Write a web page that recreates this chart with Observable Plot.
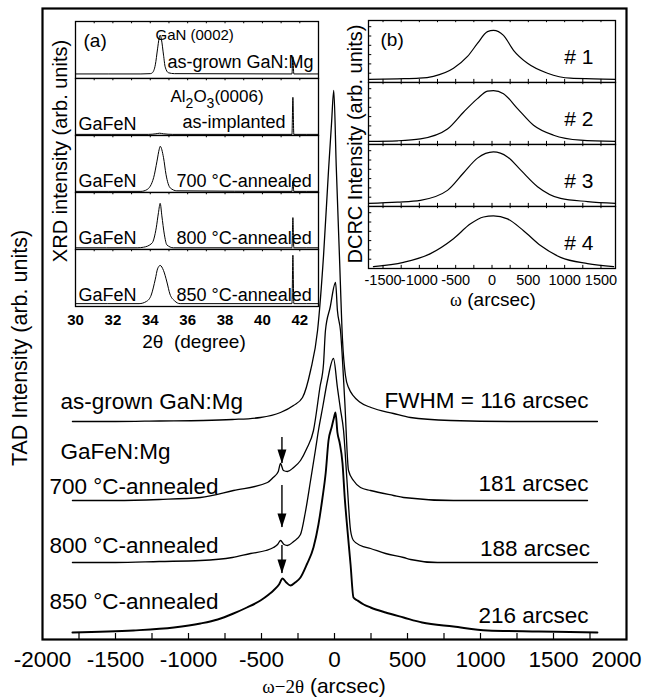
<!DOCTYPE html>
<html>
<head>
<meta charset="utf-8">
<script src="https://cdn.jsdelivr.net/npm/d3@7"></script>
<script src="https://cdn.jsdelivr.net/npm/@observablehq/plot@0.6"></script>
<style>
  html, body { margin: 0; padding: 0; background: #fff; }
  #chart { position: relative; width: 650px; height: 700px; overflow: hidden; background: #fff; }
  #chart svg { position: absolute; overflow: visible; }
</style>
</head>
<body>
<div id="chart"></div>
<script>
const SANS = '"Liberation Sans", Arial, Helvetica, sans-serif';
const SERIF = '"Liberation Serif", "Times New Roman", serif';

// ================= Main panel: TAD ω–2θ scans =================
const tadNames = ["as-grown GaN:Mg", "700 °C-annealed", "800 °C-annealed", "850 °C-annealed"];
const tadOffsets = [218, 139, 77, 7];
const tadFwhmLabels = ["FWHM = 116 arcsec", "181 arcsec", "188 arcsec", "216 arcsec"];
const tadGroupLabel = "GaFeN:Mg";
const tadXTicks = [-2000, -1500, -1000, -500, 0, 500, 1000, 1500];
const tadXLastTick = [2000];
const tadMinorTicks = [-1750, -1500, -1250, -1000, -750, -500, -250, 0, 250, 500, 750, 1000, 1250, 1500, 1750];

const tadX_asGrown = [-1795, -1500, -1200, -900, -700, -507, -370, -281, -219, -164, -116, -75, -41, -20, -5, 12, 34, 55, 75, 96, 178, 250, 404, 520, 795, 1200, 1801];
const tadI_asGrown = [0, 0, 0.5, 1, 2, 4, 9, 16, 24, 51, 91, 166, 251, 299, 331, 255, 165, 81, 46, 34, 19, 14, 8, 4, 1, 0, 0];

const tadX_700 = [-1795, -1500, -1200, -918, -692, -459, -420, -385, -370, -350, -322, -280, -233, -190, -144, -100, -75, -62, -30, 7, 20, 41, 70, 96, 130, 178, 247, 404, 473, 815, 1200, 1733];
const tadI_700 = [0, 0, 1, 3, 10, 18, 23, 29, 37, 30, 29, 33, 40, 52, 70, 113, 137, 170, 193, 218, 190, 170, 100, 30, 20, 13, 10, 5, 3, 0, 0, 0];

const tadX_800 = [-1795, -1500, -1200, -918, -700, -575, -470, -418, -390, -370, -345, -322, -280, -233, -200, -164, -130, -110, -80, -48, -7, 20, 40, 62, 85, 110, 130, 178, 247, 350, 473, 521, 705, 1200, 1801];
const tadI_800 = [0, 0, 1, 2, 5, 9, 12, 15, 18, 22, 18, 17, 21, 28, 50, 82, 113, 132, 156, 182, 204, 175, 154, 132, 83, 32, 22, 17, 14, 9, 5, 3, 0, 0, 0];

const tadX_850 = [-1795, -1377, -1100, -918, -800, -692, -600, -507, -450, -418, -380, -356, -330, -301, -270, -233, -190, -144, -110, -82, -60, -41, -20, -5, 7, 20, 35, 55, 70, 89, 110, 130, 158, 200, 247, 350, 473, 600, 815, 1048, 1400, 1801];
const tadI_850 = [0, 2, 5, 9, 13, 19, 25, 32, 38, 42, 48, 54, 50, 47, 50, 55, 68, 85, 108, 135, 160, 192, 205, 214, 220, 200, 190, 169, 135, 102, 68, 35, 32, 28, 25, 20, 15, 10, 6, 2, 1, 0];

// arrows marking the secondary feature
const arrowX = [-360, -360, -360];
const arrowFrom = [202, 154, 94];
const arrowTo = [176, 112, 66];

// ================= Inset (a): XRD 2θ scans =================
const xrdSample = "GaFeN";
const xrdConditions = ["as-grown GaN:Mg", "as-implanted", "700 °C-annealed", "800 °C-annealed", "850 °C-annealed"];
const xrdTicks = [30, 32, 34, 36, 38, 40, 42];
const xrdMinorTicks = [31, 32, 33, 34, 35, 36, 37, 38, 39, 40, 41, 42];

const xrdX_asGrown = [30, 33.5, 34.0, 34.11, 34.27, 34.39, 34.47, 34.53, 34.6, 34.71, 34.8, 34.98, 35.3, 41.58, 41.63, 41.68, 43];
const xrdY_asGrown = [0.08, 0.08, 0.085, 0.10, 0.24, 0.52, 0.70, 0.76, 0.68, 0.41, 0.20, 0.10, 0.085, 0.08, 0.38, 0.08, 0.08];
const xrdX_implanted = [30, 33.9, 34.3, 34.5, 34.7, 35.2, 41.58, 41.63, 41.68, 43];
const xrdY_implanted = [0.02, 0.02, 0.03, 0.04, 0.03, 0.02, 0.02, 0.67, 0.02, 0.02];
const xrdX_700 = [30, 33.5, 33.82, 34.18, 34.36, 34.48, 34.53, 34.71, 34.84, 35.07, 35.42, 41.58, 41.63, 41.68, 43];
const xrdY_700 = [0.02, 0.02, 0.05, 0.26, 0.55, 0.76, 0.81, 0.61, 0.32, 0.08, 0.03, 0.02, 0.2, 0.02, 0.02];
const xrdX_800 = [30, 33.3, 33.64, 34.09, 34.32, 34.44, 34.53, 34.62, 34.75, 34.89, 35.24, 41.58, 41.63, 41.68, 43];
const xrdY_800 = [0.03, 0.03, 0.04, 0.11, 0.38, 0.65, 0.81, 0.59, 0.27, 0.08, 0.03, 0.03, 0.56, 0.03, 0.03];
const xrdX_850 = [30, 33.4, 33.8, 34.05, 34.27, 34.39, 34.53, 34.71, 34.89, 35.05, 35.3, 35.6, 41.58, 41.63, 41.68, 43];
const xrdY_850 = [0.05, 0.05, 0.09, 0.2, 0.48, 0.66, 0.72, 0.63, 0.43, 0.22, 0.1, 0.05, 0.05, 0.9, 0.05, 0.05];

// ================= Inset (b): DCRC rocking curves =================
const dcrcLabels = ["# 1", "# 2", "# 3", "# 4"];
const dcrcTicks = [-1500, -1000, -500, 0, 500, 1000, 1500];
const dcrcMinorTicks = [-1500, -1250, -1000, -750, -500, -250, 0, 250, 500, 750, 1000, 1250, 1500];
const dcrcYTicks = [0.15, 0.3, 0.45, 0.6, 0.75, 0.9];
const dcrcX_1 = [-1700, -1300, -1000, -806, -530, -337, -200, -62, 20, 158, 296, 489, 764, 1081, 1400, 1700];
const dcrcY_1 = [0.05, 0.06, 0.07, 0.10, 0.23, 0.42, 0.63, 0.82, 0.84, 0.76, 0.52, 0.31, 0.15, 0.07, 0.06, 0.05];
const dcrcX_2 = [-1700, -1300, -985, -613, -393, -200, -62, 20, 158, 351, 572, 847, 1219, 1700];
const dcrcY_2 = [0.05, 0.06, 0.09, 0.25, 0.52, 0.74, 0.86, 0.87, 0.82, 0.58, 0.31, 0.15, 0.07, 0.05];
const dcrcX_3 = [-1700, -1300, -985, -613, -393, -200, 20, 213, 393, 627, 944, 1315, 1700];
const dcrcY_3 = [0.05, 0.07, 0.10, 0.26, 0.54, 0.78, 0.88, 0.80, 0.59, 0.32, 0.13, 0.08, 0.05];
const dcrcX_4 = [-1632, -1219, -847, -530, -296, -117, 20, 213, 434, 668, 944, 1315, 1674];
const dcrcY_4 = [0.03, 0.10, 0.24, 0.48, 0.72, 0.83, 0.85, 0.80, 0.61, 0.37, 0.18, 0.08, 0.03];

// ---------- build tables ----------
const tadX = [tadX_asGrown, tadX_700, tadX_800, tadX_850];
const tadI = [tadI_asGrown, tadI_700, tadI_800, tadI_850];
const tadRows = [];
tadX.forEach((xs, k) => xs.forEach((x, i) => tadRows.push({series: tadNames[k], x, y: tadI[k][i] + tadOffsets[k]})));
const arrowRows = arrowX.map((x, i) => ({x, y1: arrowFrom[i], y2: arrowTo[i]}));

const xrdX = [xrdX_asGrown, xrdX_implanted, xrdX_700, xrdX_800, xrdX_850];
const xrdY = [xrdY_asGrown, xrdY_implanted, xrdY_700, xrdY_800, xrdY_850];
const xrdRows = [];
xrdX.forEach((xs, p) => xs.forEach((x, i) => xrdRows.push({panel: p, x, y: xrdY[p][i]})));

const dcrcX = [dcrcX_1, dcrcX_2, dcrcX_3, dcrcX_4];
const dcrcY = [dcrcY_1, dcrcY_2, dcrcY_3, dcrcY_4];
const dcrcRows = [];
dcrcX.forEach((xs, p) => xs.forEach((x, i) => dcrcRows.push({panel: p, x, y: dcrcY[p][i]})));

const chart = document.getElementById("chart");

// ---------- main plot ----------
const arrowHead = {draw(ctx) { ctx.moveTo(0, 7); ctx.lineTo(-4.5, -7); ctx.lineTo(4.5, -7); ctx.closePath(); }};
const mainLabel = (t, x, y, anchor) => Plot.text([t], {x: () => x, y: () => y, text: d => d, textAnchor: anchor, lineAnchor: "bottom", fontSize: 22.5});

const main = Plot.plot({
  width: 650, height: 700,
  marginLeft: 42, marginRight: 24, marginTop: 8, marginBottom: 61,
  style: {fontFamily: SANS, background: "transparent", color: "black"},
  x: {domain: [-2000, 2000]},
  y: {domain: [0, 631], axis: null},
  marks: [
    Plot.ruleX(tadMinorTicks, {x: d => d, y1: 0, y2: 6, stroke: "black", strokeWidth: 1.2}),
    Plot.axisX({ticks: tadXTicks, tickSize: 0, tickPadding: 12, label: null, fontSize: 22.5, tickFormat: d => String(d)}),
    Plot.axisX({ticks: tadXLastTick, tickSize: 0, tickPadding: 12, label: null, fontSize: 22.5, dx: -10, tickFormat: d => String(d)}),
    Plot.line(tadRows.filter(d => d.series !== tadNames[3]), {x: "x", y: "y", z: "series", stroke: "black", strokeWidth: 1.3, curve: "monotone-x"}),
    Plot.line(tadRows.filter(d => d.series === tadNames[3]), {x: "x", y: "y", stroke: "black", strokeWidth: 1.9, curve: "monotone-x"}),
    Plot.ruleX(arrowRows, {x: "x", y1: "y1", y2: "y2", stroke: "black", strokeWidth: 1.4}),
    Plot.dot(arrowRows, {x: "x", y: "y2", symbol: arrowHead, fill: "black", stroke: "none", dy: -7}),
    mainLabel(tadNames[0], -1877, 231, "start"),
    mainLabel(tadGroupLabel, -1877, 181, "start"),
    mainLabel(tadNames[1], -1952, 146, "start"),
    mainLabel(tadNames[2], -1952, 87, "start"),
    mainLabel(tadNames[3], -1952, 31, "start"),
    mainLabel(tadFwhmLabels[0], 1740, 232, "end"),
    mainLabel(tadFwhmLabels[1], 1740, 149, "end"),
    mainLabel(tadFwhmLabels[2], 1750, 84, "end"),
    mainLabel(tadFwhmLabels[3], 1740, 17, "end"),
    Plot.frame({stroke: "black", strokeWidth: 2.2})
  ]
});
main.style.left = "0px"; main.style.top = "0px";
chart.appendChild(main);
{
  const s = d3.select(main);
  s.append("text").attr("transform", "translate(27,348) rotate(-90)").attr("text-anchor", "middle")
    .attr("font-family", SANS).attr("font-size", 21.5).attr("fill", "black").text("TAD Intensity (arb. units)");
  const t = s.append("text").attr("x", 324).attr("y", 693).attr("text-anchor", "middle").attr("fill", "black");
  t.append("tspan").attr("font-family", SERIF).attr("font-size", 19).text("ω−2θ");
  t.append("tspan").attr("font-family", SANS).attr("font-size", 21).text(" (arcsec)");
}

// ---------- inset (a) ----------
const condDx = [92, 107, 101, 101, 101];
const condDy = [-11, -8, -6, -6, -6];
const insetA = Plot.plot({
  width: 300, height: 350,
  marginLeft: 35, marginRight: 22, marginTop: 9, marginBottom: 52,
  style: {fontFamily: SANS, background: "transparent", color: "black"},
  x: {domain: [30, 43]},
  y: {domain: [0, 1], axis: null},
  fy: {domain: [0, 1, 2, 3, 4], axis: null, padding: 0},
  marks: [
    Plot.frame({fill: "white", stroke: "black", strokeWidth: 1.3}),
    Plot.ruleX(xrdMinorTicks, {x: d => d, y1: 1, y2: 0.96, stroke: "black", strokeWidth: 1}),
    Plot.axisX({anchor: "bottom", ticks: xrdTicks, tickSize: 0, tickPadding: 8, fontSize: 15, label: null, tickFormat: d => String(d)}),
    Plot.line(xrdRows, {x: "x", y: "y", fy: "panel", z: "panel", stroke: "black", strokeWidth: 1, curve: "monotone-x"}),
    Plot.text([{panel: 0, t: "(a)"}], {fy: "panel", text: "t", frameAnchor: "top-left", dx: 8, dy: 25, lineAnchor: "bottom", textAnchor: "start", fontSize: 19}),
    Plot.text([{panel: 0, t: "GaN (0002)"}], {fy: "panel", text: "t", frameAnchor: "top-left", dx: 80, dy: 18, lineAnchor: "bottom", textAnchor: "start", fontSize: 15}),
    Plot.text([1, 2, 3, 4].map(p => ({panel: p, t: xrdSample})), {fy: "panel", text: "t", frameAnchor: "bottom-left", dx: 3, dy: -6, lineAnchor: "bottom", textAnchor: "start", fontSize: 18}),
    ...xrdConditions.map((c, p) => Plot.text([{panel: p, t: c}], {fy: "panel", text: "t", frameAnchor: "bottom-left", dx: condDx[p], dy: condDy[p], lineAnchor: "bottom", textAnchor: "start", fontSize: 18}))
  ]
});
insetA.style.left = "40px"; insetA.style.top = "10px";
chart.appendChild(insetA);
{
  const s = d3.select(insetA);
  const tickStrings = xrdTicks.map(String);
  s.selectAll("text").filter(function () { return tickStrings.includes(this.textContent); })
    .style("font-weight", "bold");
  s.append("text").attr("transform", "translate(27,141) rotate(-90)").attr("text-anchor", "middle")
    .attr("font-family", SANS).attr("font-size", 20).attr("fill", "black").text("XRD intensity (arb. units)");
  s.append("text").attr("x", 154).attr("y", 338).attr("text-anchor", "middle")
    .attr("font-family", SANS).attr("font-size", 19).attr("fill", "black").attr("xml:space", "preserve").text("2θ  (degree)");
  const al = s.append("text").attr("x", 177).attr("y", 92).attr("font-family", SANS).attr("font-size", 17).attr("fill", "black");
  al.append("tspan").text("Al");
  al.append("tspan").attr("dy", 6).attr("font-size", 14).text("2");
  al.append("tspan").attr("dy", -6).text("O");
  al.append("tspan").attr("dy", 6).attr("font-size", 14).text("3");
  al.append("tspan").attr("dy", -6).text("(0006)");
}

// ---------- inset (b) ----------
const insetB = Plot.plot({
  width: 300, height: 310,
  marginLeft: 38, marginRight: 15, marginTop: 10, marginBottom: 52,
  style: {fontFamily: SANS, background: "transparent", color: "black"},
  x: {domain: [-1700, 1700]},
  y: {domain: [0, 1], axis: null},
  fy: {domain: [0, 1, 2, 3], axis: null, padding: 0},
  marks: [
    Plot.frame({fill: "white", stroke: "black", strokeWidth: 1.3}),
    Plot.ruleX(dcrcMinorTicks, {x: d => d, y1: 1, y2: 0.965, stroke: "black", strokeWidth: 1}),
    Plot.ruleX(dcrcMinorTicks, {x: d => d, y1: 0, y2: 0.05, stroke: "black", strokeWidth: 1}),
    Plot.ruleY(dcrcYTicks, {y: d => d, x1: -1700, x2: -1655, stroke: "black", strokeWidth: 1}),
    Plot.axisX({anchor: "bottom", ticks: dcrcTicks, tickSize: 0, tickPadding: 6, fontSize: 14.5, label: null, tickFormat: d => String(d)}),
    Plot.line(dcrcRows, {x: "x", y: "y", fy: "panel", z: "panel", stroke: "black", strokeWidth: 1.2, curve: "monotone-x"}),
    Plot.text([{panel: 0, t: "(b)"}], {fy: "panel", text: "t", frameAnchor: "top-left", dx: 12, dy: 25, lineAnchor: "bottom", textAnchor: "start", fontSize: 19}),
    Plot.text(dcrcLabels.map((t, p) => ({panel: p, t})), {fy: "panel", text: "t", frameAnchor: "bottom-right", dx: -22, dy: -19, lineAnchor: "bottom", textAnchor: "end", fontSize: 21})
  ]
});
insetB.style.left = "330px"; insetB.style.top = "10px";
chart.appendChild(insetB);
{
  const s = d3.select(insetB);
  s.append("text").attr("transform", "translate(32,134) rotate(-90)").attr("text-anchor", "middle")
    .attr("font-family", SANS).attr("font-size", 20).attr("fill", "black").text("DCRC Intensity (arb. units)");
  const t = s.append("text").attr("x", 163).attr("y", 296).attr("text-anchor", "middle").attr("fill", "black");
  t.append("tspan").attr("font-family", SERIF).attr("font-size", 18).text("ω");
  t.append("tspan").attr("font-family", SANS).attr("font-size", 19).text(" (arcsec)");
}
</script>
</body>
</html>
